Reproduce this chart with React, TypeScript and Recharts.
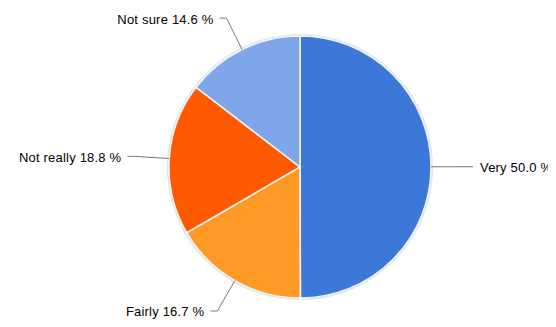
import { PieChart, Pie, Cell } from "recharts";

const names = ["Very", "Fairly", "Not really", "Not sure"];
const values = [50.0, 16.7, 18.8, 14.6];
const colors = ["#3b78d8", "#ff9a26", "#ff5a00", "#7ea6e8"];

const data = names.map((name, i) => ({ name, value: values[i] }));

const RADIAN = Math.PI / 180;

function renderLabel(props: any) {
  const { cx, cy, midAngle, outerRadius, name, value } = props;
  const cos = Math.cos(-midAngle * RADIAN);
  const sin = Math.sin(-midAngle * RADIAN);
  const sx = cx + outerRadius * cos;
  const sy = cy + outerRadius * sin;
  const mx = cx + (outerRadius + 35) * cos;
  const my = cy + (outerRadius + 35) * sin;
  const right = cos >= 0;
  const ex = mx + (right ? 7 : -7);
  const tx = ex + (right ? 7 : -6);
  return (
    <g>
      <polyline points={`${sx},${sy} ${mx},${my} ${ex},${my}`} fill="none" stroke="#777" strokeWidth={1} />
      <text
        x={tx}
        y={my + 1}
        textAnchor={right ? "start" : "end"}
        dominantBaseline="central"
        fill="#000"
        fontSize={13}
        letterSpacing={0.2}
        fontFamily="'Liberation Sans', Arial, sans-serif"
      >
        {`${name} ${value.toFixed(1)} %`}
      </text>
    </g>
  );
}

export default function App() {
  return (
    <div style={{ margin: -8, background: "#fff" }}>
      <PieChart width={556} height={327} margin={{ top: 0, right: 0, bottom: 0, left: 0 }}>
        <Pie
          data={[{ name: "ring", value: 1 }]}
          dataKey="value"
          cx={300}
          cy={167}
          outerRadius={133}
          fill="#dfe4ee"
          stroke="none"
          isAnimationActive={false}
        />
        <Pie
          data={data}
          dataKey="value"
          nameKey="name"
          cx={300}
          cy={167}
          outerRadius={131}
          startAngle={90}
          endAngle={-270}
          stroke="#f4f4f4"
          strokeWidth={1.5}
          label={renderLabel}
          labelLine={false}
          isAnimationActive={false}
        >
          {data.map((d, i) => (
            <Cell key={d.name} fill={colors[i]} />
          ))}
        </Pie>
      </PieChart>
    </div>
  );
}
